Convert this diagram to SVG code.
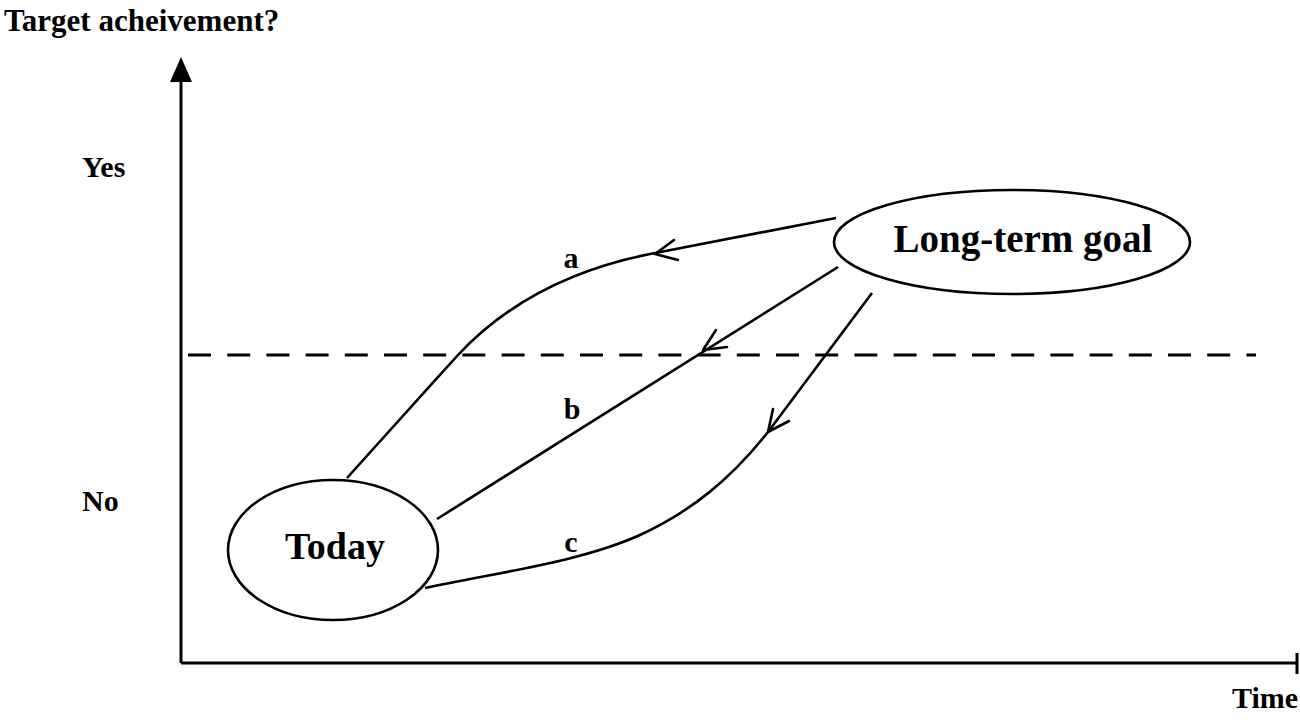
<svg xmlns="http://www.w3.org/2000/svg" width="1300" height="720" viewBox="0 0 1300 720">
<style>
text{font-family:"Liberation Serif","Times New Roman",serif;font-weight:bold;fill:#000}
.ln{fill:none;stroke:#000;stroke-width:2.6;stroke-linejoin:round}
.ax{fill:none;stroke:#000;stroke-width:3}
.ah{fill:none;stroke:#000;stroke-width:2.6;stroke-linecap:round;stroke-linejoin:round}
.nd{fill:#fff;stroke:#000;stroke-width:2.6}
</style>
<rect width="1300" height="720" fill="#fff"/>
<g id="axes">
<line class="ax" x1="181" y1="78" x2="181" y2="663"/>
<polygon points="181,57 170,82 192,82" fill="#000"/>
<line class="ax" x1="181" y1="663" x2="1297" y2="663"/>
<line class="ax" x1="1297" y1="653" x2="1297" y2="674"/>
<line x1="186" y1="355" x2="1256" y2="355" stroke="#000" stroke-width="3" stroke-dasharray="23 16.2" stroke-dashoffset="-2"/>
<text x="4" y="31" font-size="31">Target acheivement?</text>
<text x="82" y="177" font-size="30">Yes</text>
<text x="82" y="511" font-size="30">No</text>
<text x="1232" y="708" font-size="30">Time</text>
</g>
<g id="connectors">
<path class="ln" d="M347,478 C380,441 420,397 458,355 C500,310 560,272 650,254 L836,218"/>
<polyline class="ah" points="674,240 655,254 678,260"/>
<path class="ln" d="M437,519 L838,267"/>
<polyline class="ah" points="716,330 703,350 727,347"/>
<path class="ln" d="M425,588 C500,572 580,562 640,535 C690,512 730,480 768,432 L872,293"/>
<polyline class="ah" points="773,409 768,432 789,421"/>
<text x="571" y="268" font-size="30" text-anchor="middle">a</text>
<text x="572" y="419" font-size="30" text-anchor="middle">b</text>
<text x="571" y="552" font-size="30" text-anchor="middle">c</text>
</g>
<g id="node-today">
<ellipse class="nd" cx="333" cy="550" rx="105" ry="70"/>
<text x="335" y="559" font-size="38" text-anchor="middle">Today</text>
</g>
<g id="node-goal">
<ellipse class="nd" cx="1012" cy="242" rx="178" ry="52"/>
<text x="1023" y="252" font-size="39" text-anchor="middle">Long-term goal</text>
</g>
</svg>
